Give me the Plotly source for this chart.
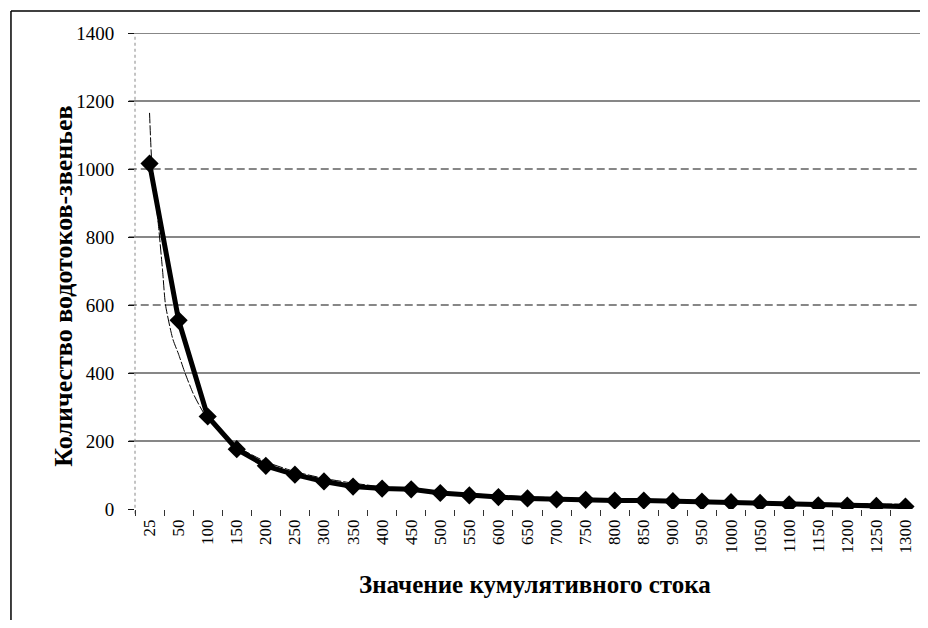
import plotly.graph_objects as go

# ---- data ----
categories = ["25", "50", "100", "150", "200", "250", "300", "350", "400", "450",
              "500", "550", "600", "650", "700", "750", "800", "850", "900", "950",
              "1000", "1050", "1100", "1150", "1200", "1250", "1300"]
counts = [1016, 555, 272, 176, 127, 101, 81, 66, 60, 58,
          47, 40, 35, 31, 28, 27, 25, 25, 23, 22,
          20, 18, 14, 11, 10, 9, 7]

# trend curve (position in category units, value)
trend_pos = [0, 0.07, 0.15, 0.3, 0.45, 0.55, 0.8, 1.0, 1.22, 1.5, 1.73, 2,
             3, 4, 5, 6, 7, 8, 9, 10, 11, 12, 13, 14, 15, 16, 17, 18, 19, 20,
             21, 22, 23, 24, 25, 26]
trend_val = [1165, 1030, 960, 840, 700, 600, 500, 455, 400, 340, 302, 265,
             185, 139, 110, 90, 76, 65, 57, 50, 45, 40, 36, 33, 30, 28, 26, 24, 22, 21,
             19, 18, 17, 16, 15, 14]

y_ticks = [0, 200, 400, 600, 800, 1000, 1200, 1400]
solid_grid = [200, 400, 800, 1200, 1400]
dashed_grid = [600, 1000]

x_title = "Значение кумулятивного стока"
y_title = "Количество водотоков-звеньев"

FONT = "Liberation Serif"

fig = go.Figure()

fig.add_trace(go.Scatter(
    x=trend_pos, y=trend_val, mode="lines",
    line=dict(color="black", width=1, dash="10px,2px", shape="spline", smoothing=0.6),
    hoverinfo="skip", showlegend=False))

fig.add_trace(go.Scatter(
    x=list(range(len(categories))), y=counts, mode="lines+markers",
    line=dict(color="black", width=5),
    marker=dict(symbol="diamond", size=14, color="black"),
    text=categories, hovertemplate="%{text}: %{y}<extra></extra>",
    showlegend=False))

shapes = []
for g in solid_grid:
    shapes.append(dict(type="line", xref="paper", x0=-0.008, x1=1, yref="y", y0=g, y1=g,
                       line=dict(color="#111111", width=1.2), layer="below"))
for g in dashed_grid:
    shapes.append(dict(type="line", xref="paper", x0=-0.008, x1=1, yref="y", y0=g, y1=g,
                       line=dict(color="#111111", width=1.2, dash="8px,4px"), layer="below"))
# dotted vertical axis
shapes.append(dict(type="line", xref="paper", x0=0, x1=0, yref="paper", y0=-0.01, y1=1,
                   line=dict(color="#888888", width=1, dash="dot"), layer="below"))
# outer frame (left and top edges visible; right and bottom fall outside the picture)
shapes.append(dict(type="line", xref="paper", yref="paper",
                   x0=-0.158, x1=-0.158, y0=-0.3, y1=1.046,
                   line=dict(color="black", width=1.5), layer="below"))
shapes.append(dict(type="line", xref="paper", yref="paper",
                   x0=-0.158, x1=1.2, y0=1.046, y1=1.046,
                   line=dict(color="black", width=1.5), layer="below"))

fig.update_layout(
    width=912, height=612,
    margin=dict(l=127, r=0, t=25, b=111),
    paper_bgcolor="white", plot_bgcolor="white",
    font=dict(family=FONT, color="black", size=18),
    shapes=shapes,
    xaxis=dict(
        range=[-0.5, len(categories) - 0.5],
        tickmode="array", tickvals=list(range(len(categories))), ticktext=categories,
        tickangle=-90, ticks="", showgrid=False, zeroline=False, showline=False,
        tickfont=dict(family=FONT, size=17),
        ticklabelstandoff=6,
        minor=dict(ticks="outside", tick0=-0.5, dtick=1, ticklen=6,
                   tickcolor="#333333", tickwidth=1, showgrid=False),
    ),
    yaxis=dict(
        range=[0, 1400], tickmode="array", tickvals=y_ticks,
        ticks="outside", ticklen=6, tickcolor="#111111",
        showgrid=False, zeroline=False, showline=False,
        tickfont=dict(family=FONT, size=19),
        ticklabelstandoff=10,
    ),
    annotations=[
        dict(text="<b>" + x_title + "</b>", xref="paper", yref="paper",
             x=0.51, y=-0.191, showarrow=False,
             font=dict(family=FONT, size=25, color="black")),
        dict(text="<b>" + y_title + "</b>", xref="paper", yref="paper",
             x=-0.112, y=0.468, textangle=-90, showarrow=False,
             font=dict(family=FONT, size=26, color="black")),
    ],
)

fig.write_html("out.html")
